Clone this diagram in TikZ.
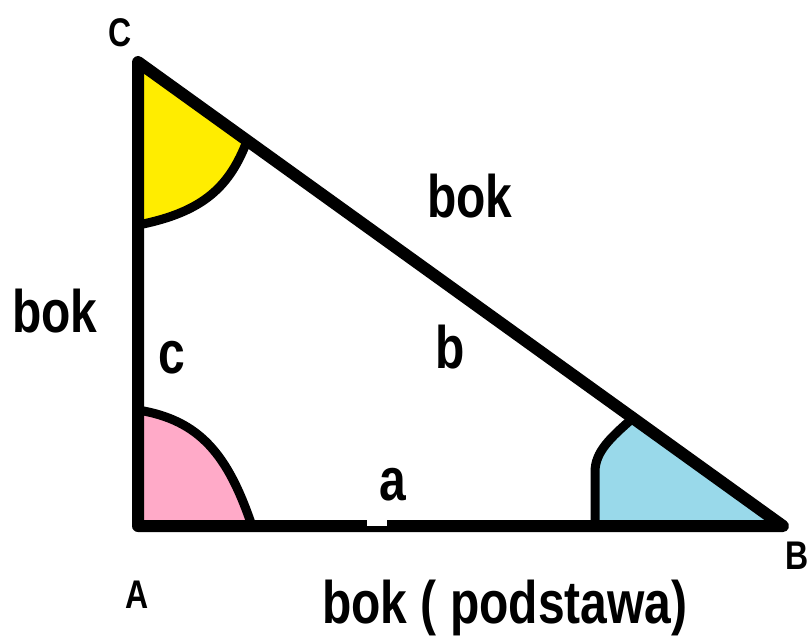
\documentclass[tikz,border=0pt]{standalone}
\usepackage{fontspec}
\usepackage{graphicx}
\setmainfont{Liberation Sans}
\newcommand\sqz[1]{\scalebox{0.8}[1]{#1}}
\definecolor{cyel}{RGB}{255,237,0}
\definecolor{cpink}{RGB}{255,170,200}
\definecolor{cblue}{RGB}{153,217,234}
\tikzset{
  side/.style={line width=12pt, line join=round, line cap=round},
  arcline/.style={line width=9pt, line cap=round},
  big/.style={font=\fontsize{60}{60}\selectfont\bfseries, inner sep=0pt, anchor=base},
  vtx/.style={font=\fontsize{40}{40}\selectfont\bfseries, inner sep=0pt, anchor=base}
}
\begin{document}
\begin{tikzpicture}[x=1pt,y=-1pt]
\useasboundingbox (0,0) rectangle (811,637);
\coordinate (C) at (138,62);
\coordinate (A) at (138,526);
\coordinate (B) at (783,526);
% angle fills
\fill[cyel] (C) -- (247,141) .. controls (230,185) and (205,212) .. (138,225) -- cycle;
\draw[arcline] (247,141) .. controls (230,185) and (205,212) .. (138,225);
\fill[cpink] (138,410) .. controls (200,420) and (228,455) .. (252,526) -- (A) -- cycle;
\draw[arcline] (138,410) .. controls (200,420) and (228,455) .. (252,526);
\fill[cblue] (595,526) -- (595,472) .. controls (595,452) and (610,438) .. (633,418) -- (B) -- cycle;
\draw[arcline] (595,526) -- (595,472) .. controls (595,452) and (610,438) .. (633,418);
% triangle
\draw[side] (C) -- (A) -- (B) -- cycle;
\fill[white] (367,519) rectangle (387,526);
% labels
\node[vtx] (lC) at (120,46) {\sqz{C}};
\node[vtx] (lA) at (137,608) {\sqz{A}};
\node[vtx] (lB) at (797,569) {\sqz{B}};
\node[big] (bokL) at (55,332) {\sqz{bok}};
\node[big] (bokT) at (470,217) {\sqz{bok}};
\node[big] (lc) at (172,373) {\sqz{c}};
\node[big] (lb) at (450,368) {\sqz{b}};
\node[big] (la) at (393,500) {\sqz{a}};
\node[big] (base) at (505,623) {\sqz{bok ( podstawa)}};
\end{tikzpicture}
\end{document}
